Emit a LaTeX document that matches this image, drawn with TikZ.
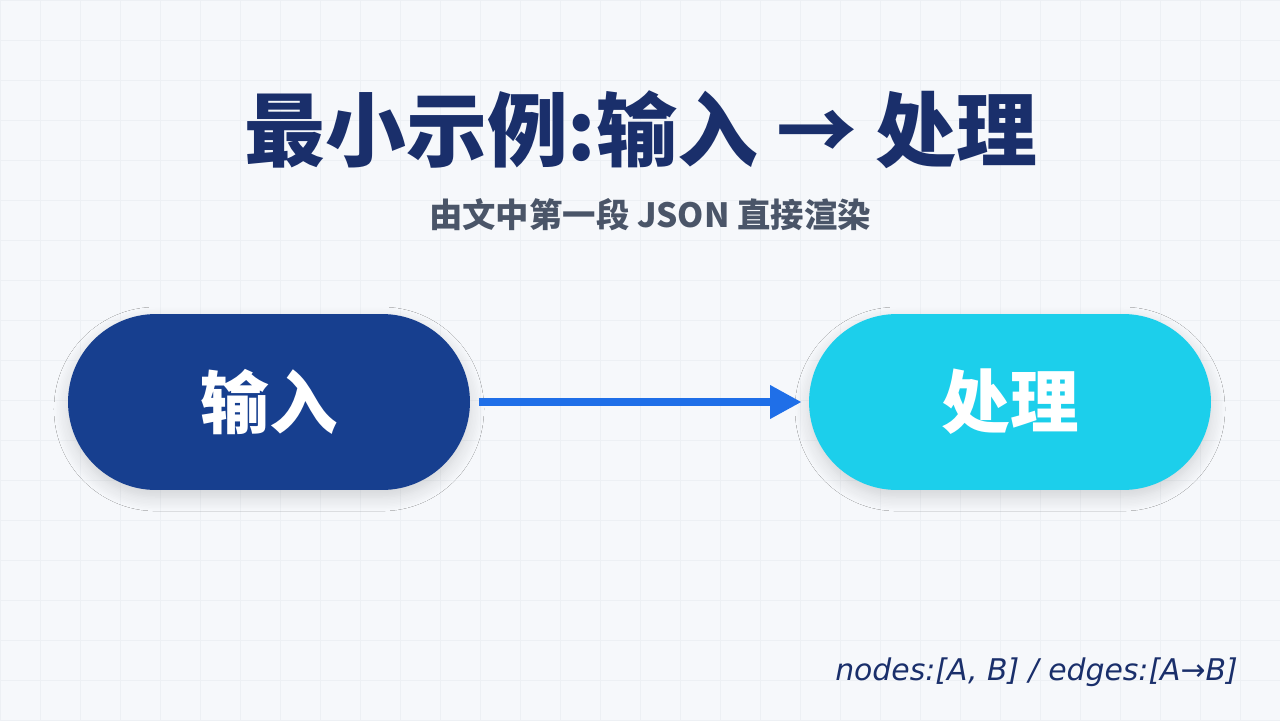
\documentclass[tikz,border=0pt]{standalone}
\usepackage{fontspec}
\setmainfont{Noto Sans}
\newfontfamily\cjk{Noto Sans CJK SC}
\newfontfamily\cjkmed{Noto Sans CJK SC Medium}
\newfontfamily\djv{DejaVu Sans}
\usetikzlibrary{arrows.meta,shadows.blur}
\definecolor{bg}{HTML}{F6F8FB}
\definecolor{gridc}{HTML}{EDF0F4}
\definecolor{navy}{HTML}{1A2F6B}
\definecolor{subc}{HTML}{4A5568}
\definecolor{nodeA}{HTML}{173F8F}
\definecolor{nodeB}{HTML}{1CCFEB}
\definecolor{arr}{HTML}{1F6FE8}
\tikzset{
  pill/.style={rounded corners=1.76cm, minimum width=8.04cm, minimum height=3.52cm, inner sep=0pt,
    blur shadow={shadow blur steps=10, shadow xshift=0pt, shadow yshift=-4pt, shadow opacity=15, shadow blur radius=8pt}},
  pilltext/.style={text=white, font=\cjk\bfseries\fontsize{39}{44}\selectfont},
}
\begin{document}
\begin{tikzpicture}[x=0.02cm,y=-0.02cm]
\fill[bg] (0,0) rectangle (1280,720);
\useasboundingbox (0,0) rectangle (1280,720);
\foreach \i in {0,40,...,1280} \draw[gridc,line width=0.4pt] (\i,0) -- (\i,720);
\foreach \j in {0,40,...,720} \draw[gridc,line width=0.4pt] (0,\j) -- (1280,\j);
\node[text=navy, font=\cjk\bfseries\fontsize{46}{52}\selectfont] (title) at (641,130) {最小示例:输入 → 处理};
\node[text=subc, font=\cjk\bfseries\fontsize{19}{22}\selectfont] (sub) at (650,215) {由文中第一段 JSON 直接渲染};
\node[pill, fill=nodeA, pilltext] (A) at (269,402) {输入};
\node[pill, fill=nodeB, pilltext] (B) at (1010,402) {处理};
\draw[arr, line width=5pt, -{Triangle[length=18pt,width=18pt]}] ([xshift=5pt]A.east) -- ([xshift=-4pt]B.west);
\node[anchor=east, text=navy, font=\djv\itshape\fontsize{17}{20}\selectfont] (code) at (1244,672) {nodes:[A, B] / edges:[A→B]};
\end{tikzpicture}
\end{document}
